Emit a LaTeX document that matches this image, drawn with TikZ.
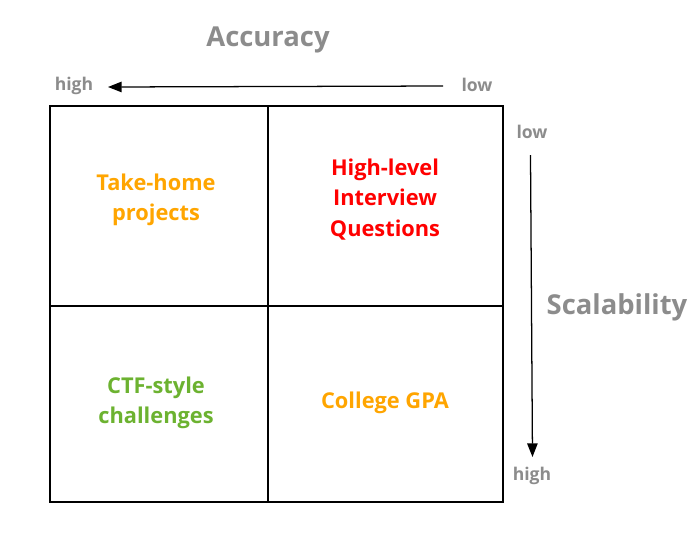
\documentclass[tikz,border=0pt]{standalone}
\usepackage{fontspec}
\setmainfont{Open Sans}
\usepackage{tikz}
\usetikzlibrary{arrows.meta,positioning}
\usepackage{xcolor}
\definecolor{axisgray}{RGB}{140,140,140}
\definecolor{softorange}{RGB}{255,165,0}
\definecolor{brightred}{RGB}{255,0,0}
\definecolor{leafgreen}{RGB}{108,178,48}

\begin{document}
\begin{tikzpicture}[x=0.025cm, y=-0.025cm,
    axistitle/.style={font=\fontsize{19.5}{22}\selectfont\bfseries, text=axisgray},
    axisend/.style={font=\fontsize{12.5}{15}\selectfont\bfseries, text=axisgray},
    quad/.style={font=\fontsize{15.5}{21.5}\selectfont\bfseries, align=center},
    arr/.style={-{Stealth[length=3.4mm, width=2.6mm, inset=0pt]}, line width=0.9pt, black},
    grid/.style={line width=1.3pt, black}]
    \useasboundingbox (0,0) rectangle (700,549);

    % Grid
    \draw[grid] (50,106) rectangle (503,502);
    \draw[grid] (268,106) -- (268,502);
    \draw[grid] (50,306) -- (503,306);

    % Accuracy axis
    \node[axistitle] (acc) at (268,39.5) {Accuracy};
    \node[axisend] (accHigh) at (74,86) {high};
    \node[axisend] (accLow) at (477,85) {low};
    \coordinate (accFrom) at (443,86);
    \coordinate (accTo) at (108,87);
    \draw[arr] (accFrom) -- (accTo);

    % Scalability axis
    \node[axistitle] (scal) at (617,307.5) {Scalability};
    \node[axisend] (scalLow) at (532,132) {low};
    \node[axisend] (scalHigh) at (532,476) {high};
    \coordinate (scalFrom) at (530.5,155);
    \coordinate (scalTo) at (532.5,457);
    \draw[arr] (scalFrom) -- (scalTo);

    % Quadrants
    \node[quad, text=softorange] (takehome) at (156,199.5) {Take-home\\projects};
    \node[quad, text=brightred] (highlevel) at (385,199.5) {High-level\\Interview\\Questions};
    \node[quad, text=leafgreen] (ctf) at (156,402.5) {CTF-style\\challenges};
    \node[quad, text=softorange] (gpa) at (385,402.5) {College GPA};
\end{tikzpicture}
\end{document}
